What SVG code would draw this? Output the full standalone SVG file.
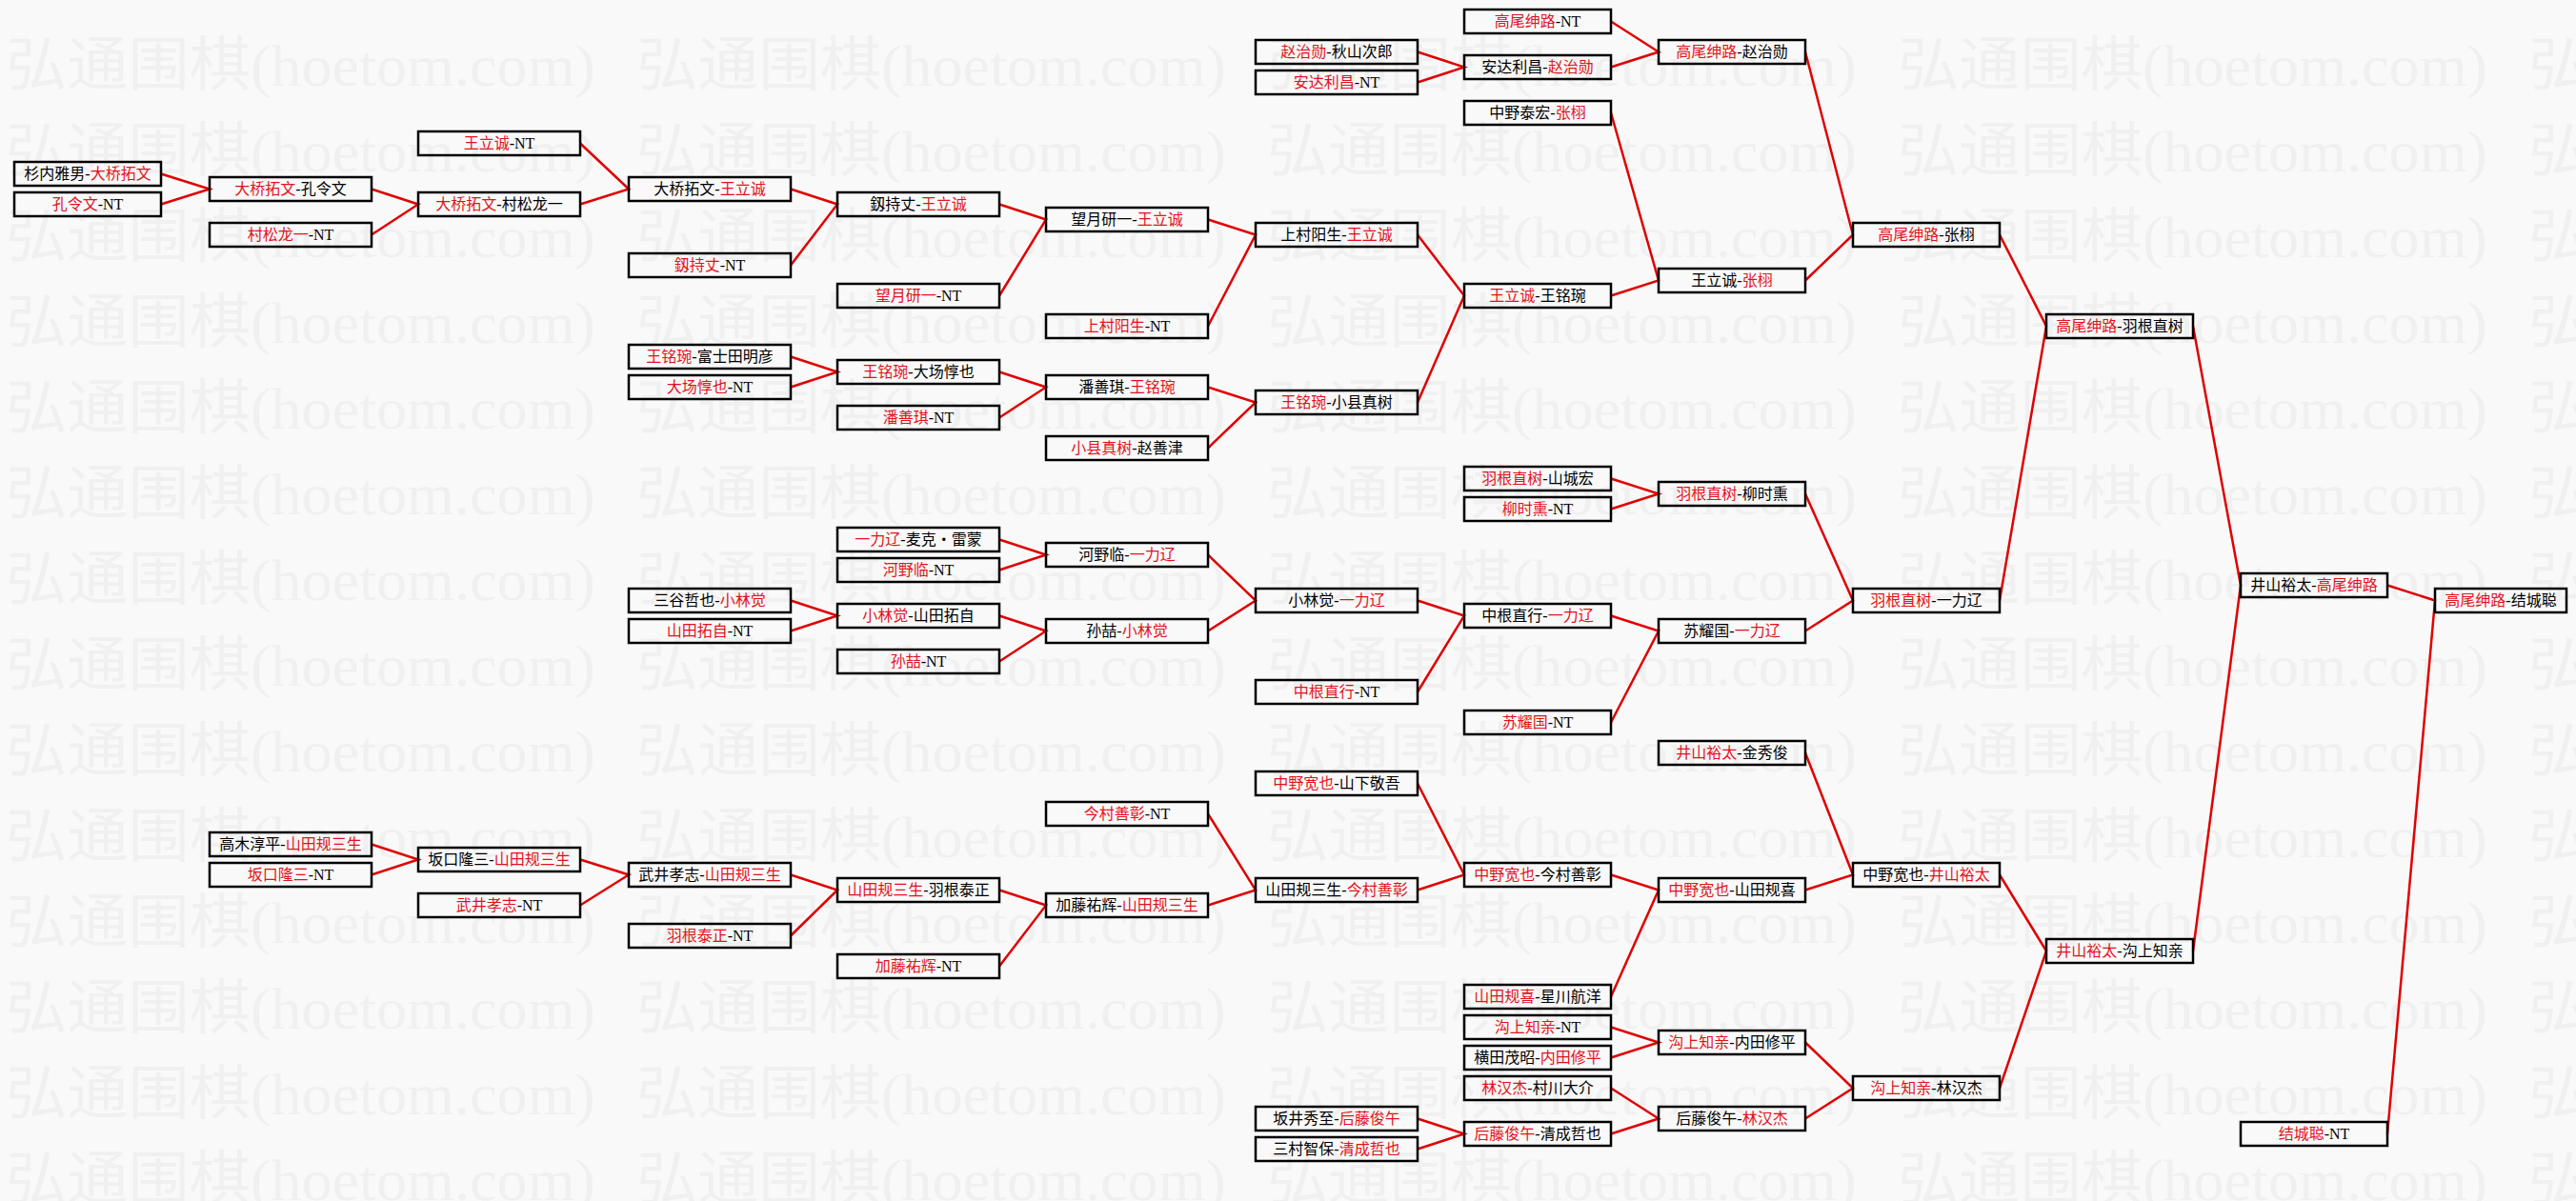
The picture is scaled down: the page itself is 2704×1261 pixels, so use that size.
<svg xmlns="http://www.w3.org/2000/svg" xmlns:xlink="http://www.w3.org/1999/xlink" width="2704" height="1261" viewBox="0 0 2704 1261">
<style>
.bg{fill:#f9f9f9}
.w{font-family:"Liberation Serif","Noto Sans CJK SC",serif;font-size:62px;fill:#f0f0f0}
.b{fill:none;stroke:#000;stroke-width:2.5}
.t{font-family:"Liberation Serif","Noto Sans CJK SC",serif;font-size:16px;text-anchor:middle;fill:#000}
.r{fill:#e3121b}
.c{fill:none;stroke:#e00000;stroke-width:2.5;stroke-linejoin:miter}
</style>
<defs>
<text id="wm" class="w" x="0" y="0" textLength="619" lengthAdjust="spacingAndGlyphs">弘通围棋(hoetom.com)</text>
<g id="wrow"><use xlink:href="#wm" x="6"/><use xlink:href="#wm" x="668"/><use xlink:href="#wm" x="1330"/><use xlink:href="#wm" x="1992"/><use xlink:href="#wm" x="2654"/></g>
</defs>
<rect class="bg" x="0" y="0" width="2704" height="1261"/>
<g id="watermark">
<use xlink:href="#wrow" y="90"/><use xlink:href="#wrow" y="180"/><use xlink:href="#wrow" y="270"/><use xlink:href="#wrow" y="360"/><use xlink:href="#wrow" y="450"/><use xlink:href="#wrow" y="540"/><use xlink:href="#wrow" y="630"/><use xlink:href="#wrow" y="720"/><use xlink:href="#wrow" y="810"/><use xlink:href="#wrow" y="900"/><use xlink:href="#wrow" y="990"/><use xlink:href="#wrow" y="1080"/><use xlink:href="#wrow" y="1170"/><use xlink:href="#wrow" y="1260"/>
</g>
<g id="connectors">
<path class="c" d="M169 182.5L220 198.5L169 214.5"/>
<path class="c" d="M390 198.5L439 214.5L390 246.5"/>
<path class="c" d="M609 150.5L660 198.5L609 214.5"/>
<path class="c" d="M830 198.5L879 214.5L830 278.5"/>
<path class="c" d="M1049 214.5L1098 230.5L1049 310.5"/>
<path class="c" d="M1268 230.5L1318 246.5L1268 342.5"/>
<path class="c" d="M830 374.5L879 390.5L830 406.5"/>
<path class="c" d="M1049 390.5L1098 406.5L1049 438.5"/>
<path class="c" d="M1268 406.5L1318 422.5L1268 470.5"/>
<path class="c" d="M1488 246.5L1537 310.5L1488 422.5"/>
<path class="c" d="M1488 54.5L1537 70.5L1488 86.5"/>
<path class="c" d="M1691 22.5L1741 54.5L1691 70.5"/>
<path class="c" d="M1691 118.5L1741 294.5L1691 310.5"/>
<path class="c" d="M1895 54.5L1945 246.5L1895 294.5"/>
<path class="c" d="M2099 246.5L2148 342.5L2099 630.5"/>
<path class="c" d="M1691 502.5L1741 518.5L1691 534.5"/>
<path class="c" d="M1049 566.5L1098 582.5L1049 598.5"/>
<path class="c" d="M830 630.5L879 646.5L830 662.5"/>
<path class="c" d="M1049 646.5L1098 662.5L1049 694.5"/>
<path class="c" d="M1268 582.5L1318 630.5L1268 662.5"/>
<path class="c" d="M1488 630.5L1537 646.5L1488 726.5"/>
<path class="c" d="M1691 646.5L1741 662.5L1691 758.5"/>
<path class="c" d="M1895 518.5L1945 630.5L1895 662.5"/>
<path class="c" d="M390 886.5L439 902.5L390 918.5"/>
<path class="c" d="M609 902.5L660 918.5L609 950.5"/>
<path class="c" d="M830 918.5L879 934.5L830 982.5"/>
<path class="c" d="M1049 934.5L1098 950.5L1049 1014.5"/>
<path class="c" d="M1268 854.5L1318 934.5L1268 950.5"/>
<path class="c" d="M1488 822.5L1537 918.5L1488 934.5"/>
<path class="c" d="M1691 918.5L1741 934.5L1691 1046.5"/>
<path class="c" d="M1895 790.5L1945 918.5L1895 934.5"/>
<path class="c" d="M1691 1078.5L1741 1094.5L1691 1110.5"/>
<path class="c" d="M1488 1174.5L1537 1190.5L1488 1206.5"/>
<path class="c" d="M1691 1142.5L1741 1174.5L1691 1190.5"/>
<path class="c" d="M1895 1094.5L1945 1142.5L1895 1174.5"/>
<path class="c" d="M2099 918.5L2148 998.5L2099 1142.5"/>
<path class="c" d="M2302 342.5L2352 614.5L2302 998.5"/>
<path class="c" d="M2506 614.5L2556 630.5L2506 1190.5"/>
</g>
<g id="n01"><rect class="b" x="15" y="170" width="154" height="25"/><text class="t" x="92" y="188">杉内雅男-<tspan class="r">大桥拓文</tspan></text></g>
<g id="n02"><rect class="b" x="15" y="202" width="154" height="25"/><text class="t" x="92" y="220"><tspan class="r">孔令文</tspan>-NT</text></g>
<g id="n03"><rect class="b" x="220" y="186" width="170" height="25"/><text class="t" x="305" y="204"><tspan class="r">大桥拓文</tspan>-孔令文</text></g>
<g id="n04"><rect class="b" x="220" y="234" width="170" height="25"/><text class="t" x="305" y="252"><tspan class="r">村松龙一</tspan>-NT</text></g>
<g id="n05"><rect class="b" x="439" y="138" width="170" height="25"/><text class="t" x="524" y="156"><tspan class="r">王立诚</tspan>-NT</text></g>
<g id="n06"><rect class="b" x="439" y="202" width="170" height="25"/><text class="t" x="524" y="220"><tspan class="r">大桥拓文</tspan>-村松龙一</text></g>
<g id="n07"><rect class="b" x="660" y="186" width="170" height="25"/><text class="t" x="745" y="204">大桥拓文-<tspan class="r">王立诚</tspan></text></g>
<g id="n08"><rect class="b" x="660" y="266" width="170" height="25"/><text class="t" x="745" y="284"><tspan class="r">釼持丈</tspan>-NT</text></g>
<g id="n09"><rect class="b" x="879" y="202" width="170" height="25"/><text class="t" x="964" y="220">釼持丈-<tspan class="r">王立诚</tspan></text></g>
<g id="n10"><rect class="b" x="879" y="298" width="170" height="25"/><text class="t" x="964" y="316"><tspan class="r">望月研一</tspan>-NT</text></g>
<g id="n11"><rect class="b" x="1098" y="218" width="170" height="25"/><text class="t" x="1183" y="236">望月研一-<tspan class="r">王立诚</tspan></text></g>
<g id="n12"><rect class="b" x="1098" y="330" width="170" height="25"/><text class="t" x="1183" y="348"><tspan class="r">上村阳生</tspan>-NT</text></g>
<g id="n13"><rect class="b" x="1318" y="234" width="170" height="25"/><text class="t" x="1403" y="252">上村阳生-<tspan class="r">王立诚</tspan></text></g>
<g id="n14"><rect class="b" x="660" y="362" width="170" height="25"/><text class="t" x="745" y="380"><tspan class="r">王铭琬</tspan>-富士田明彦</text></g>
<g id="n15"><rect class="b" x="660" y="394" width="170" height="25"/><text class="t" x="745" y="412"><tspan class="r">大场惇也</tspan>-NT</text></g>
<g id="n16"><rect class="b" x="879" y="378" width="170" height="25"/><text class="t" x="964" y="396"><tspan class="r">王铭琬</tspan>-大场惇也</text></g>
<g id="n17"><rect class="b" x="879" y="426" width="170" height="25"/><text class="t" x="964" y="444"><tspan class="r">潘善琪</tspan>-NT</text></g>
<g id="n18"><rect class="b" x="1098" y="394" width="170" height="25"/><text class="t" x="1183" y="412">潘善琪-<tspan class="r">王铭琬</tspan></text></g>
<g id="n19"><rect class="b" x="1098" y="458" width="170" height="25"/><text class="t" x="1183" y="476"><tspan class="r">小县真树</tspan>-赵善津</text></g>
<g id="n20"><rect class="b" x="1318" y="410" width="170" height="25"/><text class="t" x="1403" y="428"><tspan class="r">王铭琬</tspan>-小县真树</text></g>
<g id="n21"><rect class="b" x="1537" y="298" width="154" height="25"/><text class="t" x="1614" y="316"><tspan class="r">王立诚</tspan>-王铭琬</text></g>
<g id="n22"><rect class="b" x="1318" y="42" width="170" height="25"/><text class="t" x="1403" y="60"><tspan class="r">赵治勋</tspan>-秋山次郎</text></g>
<g id="n23"><rect class="b" x="1318" y="74" width="170" height="25"/><text class="t" x="1403" y="92"><tspan class="r">安达利昌</tspan>-NT</text></g>
<g id="n24"><rect class="b" x="1537" y="58" width="154" height="25"/><text class="t" x="1614" y="76">安达利昌-<tspan class="r">赵治勋</tspan></text></g>
<g id="n25"><rect class="b" x="1537" y="10" width="154" height="25"/><text class="t" x="1614" y="28"><tspan class="r">高尾绅路</tspan>-NT</text></g>
<g id="n26"><rect class="b" x="1741" y="42" width="154" height="25"/><text class="t" x="1818" y="60"><tspan class="r">高尾绅路</tspan>-赵治勋</text></g>
<g id="n27"><rect class="b" x="1537" y="106" width="154" height="25"/><text class="t" x="1614" y="124">中野泰宏-<tspan class="r">张栩</tspan></text></g>
<g id="n28"><rect class="b" x="1741" y="282" width="154" height="25"/><text class="t" x="1818" y="300">王立诚-<tspan class="r">张栩</tspan></text></g>
<g id="n29"><rect class="b" x="1945" y="234" width="154" height="25"/><text class="t" x="2022" y="252"><tspan class="r">高尾绅路</tspan>-张栩</text></g>
<g id="n30"><rect class="b" x="2148" y="330" width="154" height="25"/><text class="t" x="2225" y="348"><tspan class="r">高尾绅路</tspan>-羽根直树</text></g>
<g id="n31"><rect class="b" x="1537" y="490" width="154" height="25"/><text class="t" x="1614" y="508"><tspan class="r">羽根直树</tspan>-山城宏</text></g>
<g id="n32"><rect class="b" x="1537" y="522" width="154" height="25"/><text class="t" x="1614" y="540"><tspan class="r">柳时熏</tspan>-NT</text></g>
<g id="n33"><rect class="b" x="1741" y="506" width="154" height="25"/><text class="t" x="1818" y="524"><tspan class="r">羽根直树</tspan>-柳时熏</text></g>
<g id="n34"><rect class="b" x="879" y="554" width="170" height="25"/><text class="t" x="964" y="572"><tspan class="r">一力辽</tspan>-麦克・雷蒙</text></g>
<g id="n35"><rect class="b" x="879" y="586" width="170" height="25"/><text class="t" x="964" y="604"><tspan class="r">河野临</tspan>-NT</text></g>
<g id="n36"><rect class="b" x="1098" y="570" width="170" height="25"/><text class="t" x="1183" y="588">河野临-<tspan class="r">一力辽</tspan></text></g>
<g id="n37"><rect class="b" x="660" y="618" width="170" height="25"/><text class="t" x="745" y="636">三谷哲也-<tspan class="r">小林觉</tspan></text></g>
<g id="n38"><rect class="b" x="660" y="650" width="170" height="25"/><text class="t" x="745" y="668"><tspan class="r">山田拓自</tspan>-NT</text></g>
<g id="n39"><rect class="b" x="879" y="634" width="170" height="25"/><text class="t" x="964" y="652"><tspan class="r">小林觉</tspan>-山田拓自</text></g>
<g id="n40"><rect class="b" x="879" y="682" width="170" height="25"/><text class="t" x="964" y="700"><tspan class="r">孙喆</tspan>-NT</text></g>
<g id="n41"><rect class="b" x="1098" y="650" width="170" height="25"/><text class="t" x="1183" y="668">孙喆-<tspan class="r">小林觉</tspan></text></g>
<g id="n42"><rect class="b" x="1318" y="618" width="170" height="25"/><text class="t" x="1403" y="636">小林觉-<tspan class="r">一力辽</tspan></text></g>
<g id="n43"><rect class="b" x="1318" y="714" width="170" height="25"/><text class="t" x="1403" y="732"><tspan class="r">中根直行</tspan>-NT</text></g>
<g id="n44"><rect class="b" x="1537" y="634" width="154" height="25"/><text class="t" x="1614" y="652">中根直行-<tspan class="r">一力辽</tspan></text></g>
<g id="n45"><rect class="b" x="1537" y="746" width="154" height="25"/><text class="t" x="1614" y="764"><tspan class="r">苏耀国</tspan>-NT</text></g>
<g id="n46"><rect class="b" x="1741" y="650" width="154" height="25"/><text class="t" x="1818" y="668">苏耀国-<tspan class="r">一力辽</tspan></text></g>
<g id="n47"><rect class="b" x="1945" y="618" width="154" height="25"/><text class="t" x="2022" y="636"><tspan class="r">羽根直树</tspan>-一力辽</text></g>
<g id="n48"><rect class="b" x="220" y="874" width="170" height="25"/><text class="t" x="305" y="892">高木淳平-<tspan class="r">山田规三生</tspan></text></g>
<g id="n49"><rect class="b" x="220" y="906" width="170" height="25"/><text class="t" x="305" y="924"><tspan class="r">坂口隆三</tspan>-NT</text></g>
<g id="n50"><rect class="b" x="439" y="890" width="170" height="25"/><text class="t" x="524" y="908">坂口隆三-<tspan class="r">山田规三生</tspan></text></g>
<g id="n51"><rect class="b" x="439" y="938" width="170" height="25"/><text class="t" x="524" y="956"><tspan class="r">武井孝志</tspan>-NT</text></g>
<g id="n52"><rect class="b" x="660" y="906" width="170" height="25"/><text class="t" x="745" y="924">武井孝志-<tspan class="r">山田规三生</tspan></text></g>
<g id="n53"><rect class="b" x="660" y="970" width="170" height="25"/><text class="t" x="745" y="988"><tspan class="r">羽根泰正</tspan>-NT</text></g>
<g id="n54"><rect class="b" x="879" y="922" width="170" height="25"/><text class="t" x="964" y="940"><tspan class="r">山田规三生</tspan>-羽根泰正</text></g>
<g id="n55"><rect class="b" x="879" y="1002" width="170" height="25"/><text class="t" x="964" y="1020"><tspan class="r">加藤祐辉</tspan>-NT</text></g>
<g id="n56"><rect class="b" x="1098" y="938" width="170" height="25"/><text class="t" x="1183" y="956">加藤祐辉-<tspan class="r">山田规三生</tspan></text></g>
<g id="n57"><rect class="b" x="1098" y="842" width="170" height="25"/><text class="t" x="1183" y="860"><tspan class="r">今村善彰</tspan>-NT</text></g>
<g id="n58"><rect class="b" x="1318" y="922" width="170" height="25"/><text class="t" x="1403" y="940">山田规三生-<tspan class="r">今村善彰</tspan></text></g>
<g id="n59"><rect class="b" x="1318" y="810" width="170" height="25"/><text class="t" x="1403" y="828"><tspan class="r">中野宽也</tspan>-山下敬吾</text></g>
<g id="n60"><rect class="b" x="1537" y="906" width="154" height="25"/><text class="t" x="1614" y="924"><tspan class="r">中野宽也</tspan>-今村善彰</text></g>
<g id="n61"><rect class="b" x="1537" y="1034" width="154" height="25"/><text class="t" x="1614" y="1052"><tspan class="r">山田规喜</tspan>-星川航洋</text></g>
<g id="n62"><rect class="b" x="1741" y="922" width="154" height="25"/><text class="t" x="1818" y="940"><tspan class="r">中野宽也</tspan>-山田规喜</text></g>
<g id="n63"><rect class="b" x="1741" y="778" width="154" height="25"/><text class="t" x="1818" y="796"><tspan class="r">井山裕太</tspan>-金秀俊</text></g>
<g id="n64"><rect class="b" x="1945" y="906" width="154" height="25"/><text class="t" x="2022" y="924">中野宽也-<tspan class="r">井山裕太</tspan></text></g>
<g id="n65"><rect class="b" x="1537" y="1066" width="154" height="25"/><text class="t" x="1614" y="1084"><tspan class="r">沟上知亲</tspan>-NT</text></g>
<g id="n66"><rect class="b" x="1537" y="1098" width="154" height="25"/><text class="t" x="1614" y="1116">横田茂昭-<tspan class="r">内田修平</tspan></text></g>
<g id="n67"><rect class="b" x="1741" y="1082" width="154" height="25"/><text class="t" x="1818" y="1100"><tspan class="r">沟上知亲</tspan>-内田修平</text></g>
<g id="n68"><rect class="b" x="1318" y="1162" width="170" height="25"/><text class="t" x="1403" y="1180">坂井秀至-<tspan class="r">后藤俊午</tspan></text></g>
<g id="n69"><rect class="b" x="1318" y="1194" width="170" height="25"/><text class="t" x="1403" y="1212">三村智保-<tspan class="r">清成哲也</tspan></text></g>
<g id="n70"><rect class="b" x="1537" y="1178" width="154" height="25"/><text class="t" x="1614" y="1196"><tspan class="r">后藤俊午</tspan>-清成哲也</text></g>
<g id="n71"><rect class="b" x="1537" y="1130" width="154" height="25"/><text class="t" x="1614" y="1148"><tspan class="r">林汉杰</tspan>-村川大介</text></g>
<g id="n72"><rect class="b" x="1741" y="1162" width="154" height="25"/><text class="t" x="1818" y="1180">后藤俊午-<tspan class="r">林汉杰</tspan></text></g>
<g id="n73"><rect class="b" x="1945" y="1130" width="154" height="25"/><text class="t" x="2022" y="1148"><tspan class="r">沟上知亲</tspan>-林汉杰</text></g>
<g id="n74"><rect class="b" x="2148" y="986" width="154" height="25"/><text class="t" x="2225" y="1004"><tspan class="r">井山裕太</tspan>-沟上知亲</text></g>
<g id="n75"><rect class="b" x="2352" y="602" width="154" height="25"/><text class="t" x="2429" y="620">井山裕太-<tspan class="r">高尾绅路</tspan></text></g>
<g id="n76"><rect class="b" x="2352" y="1178" width="154" height="25"/><text class="t" x="2429" y="1196"><tspan class="r">结城聪</tspan>-NT</text></g>
<g id="n77"><rect class="b" x="2556" y="618" width="138" height="25"/><text class="t" x="2625" y="636"><tspan class="r">高尾绅路</tspan>-结城聪</text></g>
</svg>
